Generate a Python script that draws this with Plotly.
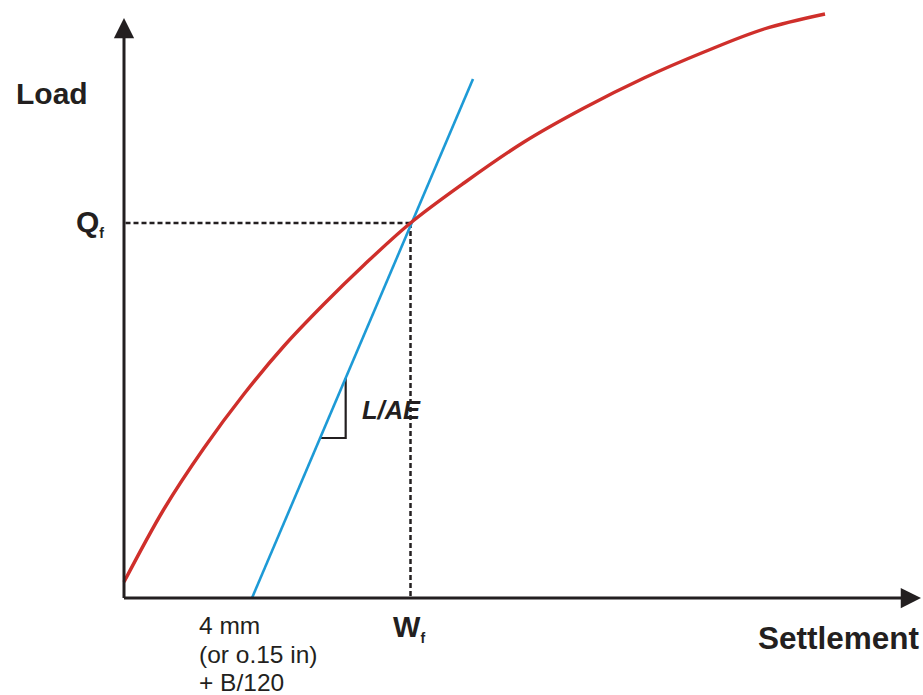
import plotly.graph_objects as go

# Load–settlement curve of the pile (settlement and load in chart units)
settlement = [0.0, 4.0, 8.0, 12.0, 16.0, 20.0, 24.0, 28.65, 34.0, 40.0,
              46.0, 52.0, 58.0, 64.0, 70.1]
load = [1.6, 8.9, 15.0, 20.4, 25.2, 29.4, 33.3, 37.5, 41.5, 45.6,
        49.0, 52.0, 54.6, 56.9, 58.4]

# Elastic compression line (slope L/AE), offset by 4 mm + B/120
elastic_settlement = [12.8, 34.9]
elastic_load = [0.0, 51.9]

# Failure point
Wf = 28.65
Qf = 37.5

# Slope triangle loads
tri_loads = [22.0, 16.0]

RED = "#cf2f2b"
BLUE = "#1d9ad6"
INK = "#231f20"
FONT = "Liberation Sans, Arial, sans-serif"


def on_elastic(q):
    s0, s1 = elastic_settlement
    q0, q1 = elastic_load
    return s0 + (q - q0) * (s1 - s0) / (q1 - q0)


fig = go.Figure()

# Dashed guides to the failure point
fig.add_trace(go.Scatter(x=[0.15, Wf], y=[Qf, Qf], mode="lines",
                         line=dict(color=INK, width=2.5, dash="5px,3px"),
                         hoverinfo="skip"))
fig.add_trace(go.Scatter(x=[Wf, Wf], y=[Qf, 0.15], mode="lines",
                         line=dict(color=INK, width=2.5, dash="5px,3px"),
                         hoverinfo="skip"))

# Slope triangle
tri_x = [on_elastic(tri_loads[0]), on_elastic(tri_loads[0]), on_elastic(tri_loads[1])]
tri_y = [tri_loads[0], tri_loads[1], tri_loads[1]]
fig.add_trace(go.Scatter(x=tri_x, y=tri_y, mode="lines",
                         line=dict(color=INK, width=2.2), hoverinfo="skip"))

# Elastic line
fig.add_trace(go.Scatter(x=elastic_settlement, y=elastic_load, mode="lines",
                         line=dict(color=BLUE, width=2.6), hoverinfo="skip"))

# Load–settlement curve
fig.add_trace(go.Scatter(x=settlement, y=load, mode="lines",
                         line=dict(color=RED, width=3.4, shape="spline", smoothing=1.0),
                         hoverinfo="skip"))

annotations = []

# Axes drawn as arrows
annotations.append(dict(x=0, y=58.0, ax=0, ay=-0.15, xref="x", yref="y",
                        axref="x", ayref="y", text="", showarrow=True,
                        arrowhead=2, arrowwidth=3, arrowsize=1.35, arrowcolor=INK))
annotations.append(dict(x=79.7, y=0, ax=-0.15, ay=0, xref="x", yref="y",
                        axref="x", ayref="y", text="", showarrow=True,
                        arrowhead=2, arrowwidth=3, arrowsize=1.35, arrowcolor=INK))

bold = dict(family=FONT, color=INK, size=30)
sub_f = "<sub><span style='font-size:14px'><b>f</b></span></sub>"

annotations.append(dict(x=-7.2, y=50.5, xref="x", yref="y", text="<b>Load</b>",
                        showarrow=False, font=bold))
annotations.append(dict(x=71.5, y=-4.0, xref="x", yref="y", text="<b>Settlement</b>",
                        showarrow=False, font=dict(family=FONT, color=INK, size=31.5)))
annotations.append(dict(x=-1.8, y=Qf, xref="x", yref="y", xanchor="right",
                        text="<b>Q</b>" + sub_f,
                        showarrow=False, font=bold))
annotations.append(dict(x=Wf - 0.2, y=-3.0, xref="x", yref="y",
                        text="<b>W</b>" + sub_f,
                        showarrow=False, font=dict(family=FONT, color=INK, size=29)))
annotations.append(dict(x=26.7, y=18.8, xref="x", yref="y",
                        text="<b><i>L/AE</i></b>", showarrow=False,
                        font=dict(family=FONT, color=INK, size=25.5)))

reg = dict(family=FONT, color=INK, size=24.5)
for txt, yy in [("4 mm", -2.75), ("(or o.15 in)", -5.6), ("+ B/120", -8.4)]:
    annotations.append(dict(x=7.25, y=yy, xref="x", yref="y", xanchor="left",
                            text=txt, showarrow=False, font=reg))

fig.update_layout(
    width=923, height=695,
    margin=dict(l=0, r=0, t=0, b=0),
    paper_bgcolor="white", plot_bgcolor="white",
    showlegend=False,
    xaxis=dict(range=[-12.4, 79.9], visible=False, fixedrange=True),
    yaxis=dict(range=[-9.7, 59.8], visible=False, fixedrange=True),
    annotations=annotations,
)

fig.write_html("out.html")
